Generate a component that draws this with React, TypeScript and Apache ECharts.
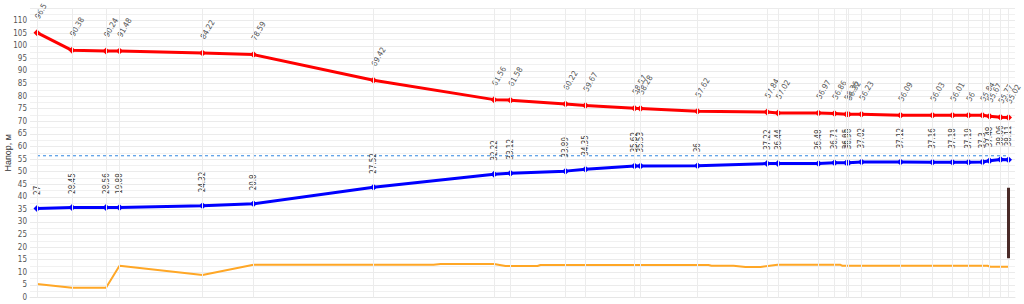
import React, { useEffect, useRef } from "react";
import * as echarts from "echarts";

// distance along the profile (m)
const distances = [0, 350, 690, 825, 1655, 2165, 3365, 4570, 4735, 5285, 5485, 5975, 6035, 6605, 7300, 7410, 7815, 7975, 8095, 8115, 8245, 8635, 8955, 9155, 9315, 9455, 9525, 9635, 9715];

const redHead = [105.2, 98.2, 97.9, 97.9, 97.1, 96.5, 86.3, 78.6, 78.4, 76.9, 76.3, 75.2, 75.1, 74.0, 73.7, 73.3, 73.3, 73.1, 72.8, 72.8, 72.8, 72.4, 72.4, 72.4, 72.4, 72.4, 72.0, 71.6, 71.5];
const blueHead = [35.4, 35.8, 35.8, 35.8, 36.4, 37.2, 43.8, 49.0, 49.4, 50.2, 50.9, 52.2, 52.2, 52.3, 53.2, 53.2, 53.2, 53.5, 53.5, 53.5, 53.8, 53.8, 53.7, 53.7, 53.7, 53.8, 54.3, 54.8, 54.7];

const redLabels = ["96.5", "90.38", "90.24", "91.48", "84.22", "78.59", "69.42", "61.56", "61.58", "60.22", "59.67", "58.57", "58.28", "57.62", "57.84", "57.02", "56.97", "56.86", "56.36", "56.32", "56.23", "56.09", "56.03", "56.01", "56", "55.84", "55.67", "55.77", "55.02"];
const blueLabels = ["27", "28.45", "28.56", "19.88", "24.32", "20.8", "27.52", "32.22", "33.12", "33.89", "34.35", "35.62", "35.53", "36", "37.22", "36.44", "36.48", "36.71", "36.95", "36.96", "37.02", "37.12", "37.16", "37.18", "37.19", "37.3", "37.48", "38.06", "38.11"];

// ground profile
const groundX = [0, 350, 690, 825, 1655, 2165, 3965, 4035, 4570, 4685, 5005, 5035, 6715, 6745, 6965, 7085, 7235, 7405, 8035, 8055, 9505, 9535, 9715];
const groundY = [5.4, 3.9, 3.9, 12.6, 8.9, 13.0, 13.0, 13.3, 13.3, 12.5, 12.5, 12.9, 12.9, 12.6, 12.6, 12.1, 12.1, 13.0, 13.0, 12.6, 12.6, 12.2, 12.2];

const dashedLevel = 56.3;
const barX = 9715;
const barRange = [15.6, 43.6];

const FONT = "'Liberation Sans Narrow', 'DejaVu Sans Condensed', Arial, sans-serif";

export default function App() {
  const ref = useRef<HTMLDivElement>(null);
  useEffect(() => {
    if (!ref.current) return;
    const chart = echarts.init(ref.current, undefined, { renderer: "svg" });
    const pair = (ys: number[]) => distances.map((d, i) => [d, ys[i]]);
    chart.setOption({
      animation: false,
      grid: { left: 30, right: 9, top: 8, bottom: 6.5, containLabel: false, outerBoundsMode: "none" },
      xAxis: {
        type: "value",
        min: -70,
        max: 9780,
        axisLabel: { show: false },
        axisTick: { show: false },
        axisLine: { show: true, lineStyle: { color: "#e6e6e6" } },
        splitLine: { show: false },
      },
      yAxis: {
        type: "value",
        min: 0,
        max: 115,
        interval: 5,
        name: "Напор, м",
        nameLocation: "middle",
        nameGap: 18,
        nameMoveOverlap: false,
        nameTextStyle: { fontSize: 9, color: "#333", fontFamily: "Arial, 'Liberation Sans', sans-serif" },
        axisLine: { show: false },
        axisTick: { show: false },
        axisLabel: {
          fontSize: 8,
          color: "#555",
          margin: 3,
          fontFamily: FONT,
          formatter: (v: number) => (v === 115 ? "" : String(v)),
        },
        splitLine: { lineStyle: { color: "#ebebeb" } },
        minorTick: { show: false, splitNumber: 2 },
        minorSplitLine: { show: true, lineStyle: { color: "#f1f1f1" } },
      },
      series: [
        {
          type: "line",
          name: "grid",
          data: [],
          z: 1,
          silent: true,
          markLine: {
            silent: true,
            symbol: ["none", "none"],
            label: { show: false },
            lineStyle: { color: "#ececec", width: 1, type: "solid" },
            data: distances.map((d) => ({ xAxis: d })),
          },
        },
        {
          type: "line",
          name: "ground",
          data: groundX.map((x, i) => [x, groundY[i]]),
          showSymbol: false,
          lineStyle: { color: "#ffa726", width: 2 },
          z: 2,
        },
        {
          type: "line",
          name: "level",
          data: [
            [distances[0], dashedLevel],
            [distances[distances.length - 1], dashedLevel],
          ],
          showSymbol: false,
          lineStyle: { color: "#2f86e0", width: 1, type: [3, 3] },
          z: 2,
        },
        {
          type: "line",
          name: "bar",
          data: [],
          z: 2,
          silent: true,
          markLine: {
            silent: true,
            symbol: ["none", "none"],
            label: { show: false },
            lineStyle: { color: "#4a2b28", width: 3, type: "solid" },
            data: [[{ coord: [barX, barRange[0]] }, { coord: [barX, barRange[1]] }]],
          },
        },
        {
          type: "line",
          name: "red",
          data: pair(redHead),
          symbol: "diamond",
          symbolSize: 7,
          itemStyle: { color: "#ff0000" },
          lineStyle: { color: "#ff0000", width: 3 },
          z: 3,
          label: {
            show: true,
            position: "top",
            distance: 11,
            rotate: 60,
            align: "left",
            verticalAlign: "middle",
            fontSize: 8,
            color: "#555",
            fontFamily: FONT,
            formatter: (p: any) => redLabels[p.dataIndex],
          },
        },
        {
          type: "line",
          name: "blue",
          data: pair(blueHead),
          symbol: "diamond",
          symbolSize: 7,
          itemStyle: { color: "#0000ff" },
          lineStyle: { color: "#0000ff", width: 3 },
          z: 3,
          label: {
            show: true,
            position: "top",
            distance: 10,
            rotate: 90,
            align: "left",
            verticalAlign: "middle",
            fontSize: 8,
            color: "#444",
            fontFamily: FONT,
            formatter: (p: any) => blueLabels[p.dataIndex],
          },
        },
      ],
    });
    return () => chart.dispose();
  }, []);
  return (
    <div
      ref={ref}
      style={{ position: "fixed", left: 0, top: 0, width: 1024, height: 304, background: "#fff" }}
    />
  );
}
